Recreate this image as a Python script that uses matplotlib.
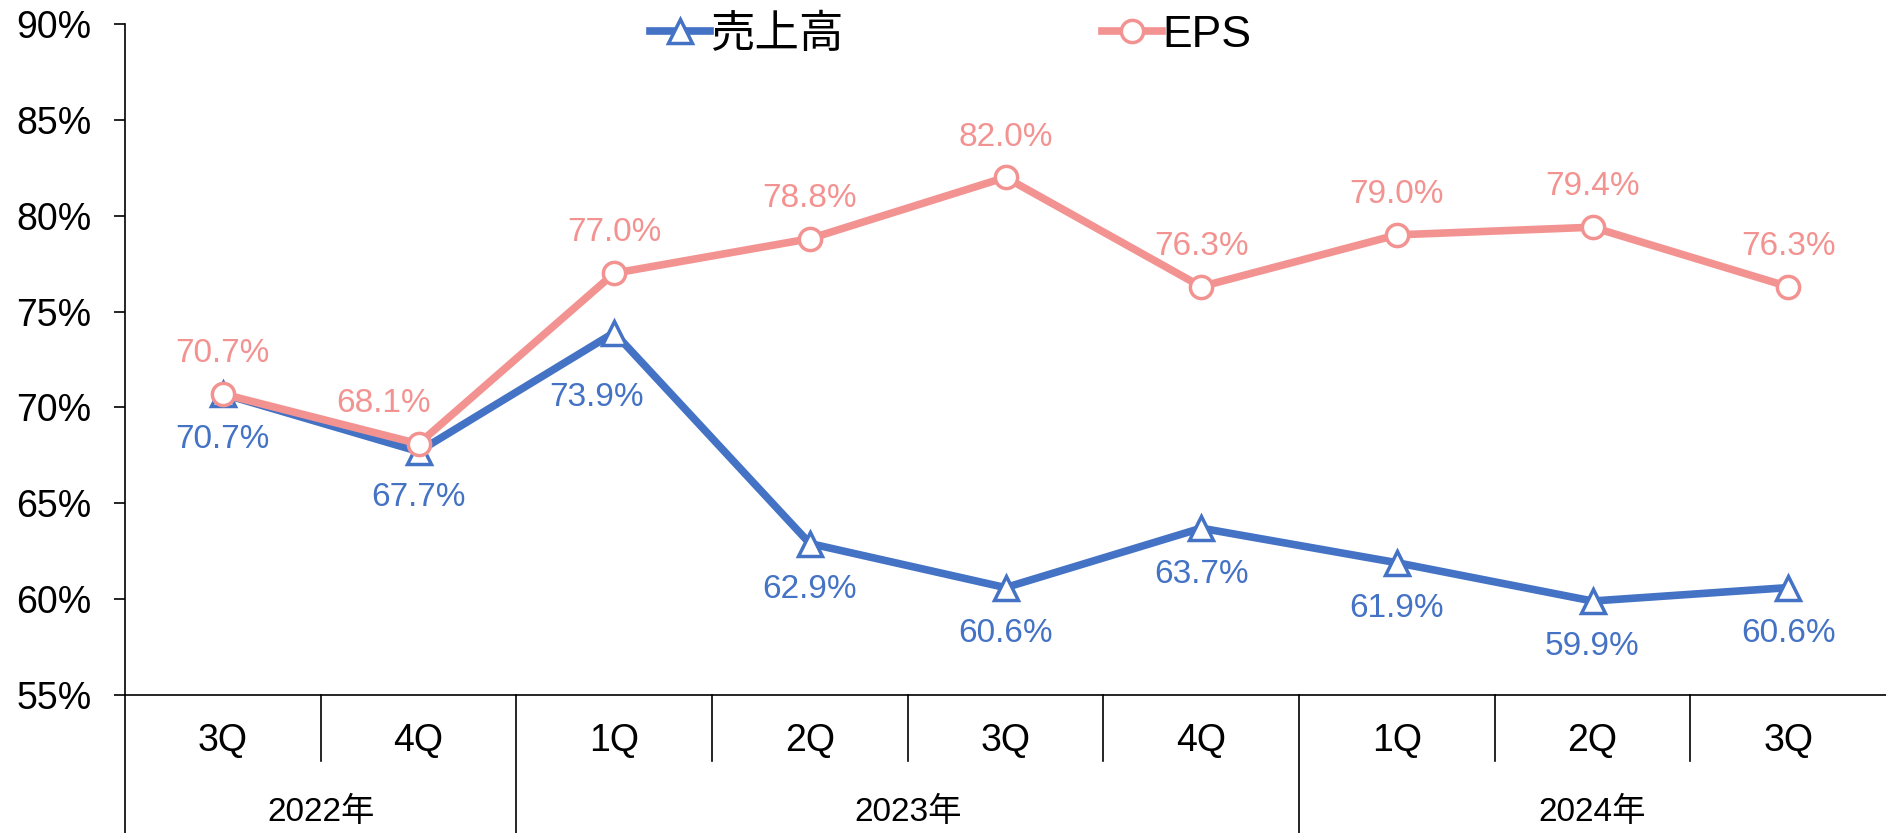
import numpy as np
import matplotlib
matplotlib.use('Agg')
import matplotlib.pyplot as plt
from matplotlib.transforms import blended_transform_factory

plt.rcParams['font.family'] = ['Liberation Sans', 'Noto Sans CJK JP', 'DejaVu Sans']

quarters = ['3Q', '4Q', '1Q', '2Q', '3Q', '4Q', '1Q', '2Q', '3Q']
years = ['2022年', '2023年', '2024年']
year_counts = [2, 4, 3]
sales = [70.7, 67.7, 73.9, 62.9, 60.6, 63.7, 61.9, 59.9, 60.6]
eps = [70.7, 68.1, 77.0, 78.8, 82.0, 76.3, 79.0, 79.4, 76.3]

blue = '#4472C4'
pink = '#F39391'

fig = plt.figure(figsize=(18.86, 8.33), dpi=100)
ax = fig.add_axes([0.0663, 0.1657, 0.9337, 0.8055])

x = np.arange(len(quarters))
l1, = ax.plot(x, sales, color=blue, lw=5.5, marker='^', ms=17, mfc='white',
              mec=blue, mew=2.5, zorder=3, label='売上高')
l2, = ax.plot(x, eps, color=pink, lw=5.5, marker='o', ms=16, mfc='white',
              mec=pink, mew=2.5, zorder=4, label='EPS')

# label offsets (points); a few moved by hand in the original
sales_off = [(0, -33)] * len(sales)
sales_off[2] = (-13, -47)
eps_off = [(0, 29)] * len(eps)
eps_off[1] = (-25, 29)

for xi, v, off in zip(x, sales, sales_off):
    ax.annotate('%.1f%%' % v, (xi, v), xytext=off, textcoords='offset points',
                ha='center', va='center', color=blue, fontsize=24)
for xi, v, off in zip(x, eps, eps_off):
    ax.annotate('%.1f%%' % v, (xi, v), xytext=off, textcoords='offset points',
                ha='center', va='center', color=pink, fontsize=24)

ax.set_xlim(-0.5, len(quarters) - 0.5)
ax.set_ylim(55, 90)
ax.set_yticks(np.arange(55, 91, 5))
ax.set_yticklabels(['%d%%' % t for t in range(55, 91, 5)], fontsize=27)
ax.tick_params(axis='y', direction='out', length=8, width=1.2, pad=16)
ax.set_xticks([])
for s in ['top', 'right']:
    ax.spines[s].set_visible(False)
for s in ['left', 'bottom']:
    ax.spines[s].set_linewidth(1.2)

trans = blended_transform_factory(ax.transData, ax.transAxes)
for xi, q in zip(x, quarters):
    ax.text(xi, -0.069, q, transform=trans, ha='center', va='center', fontsize=27)

# separators
year_bounds = np.cumsum([0] + year_counts) - 0.5
for b in np.arange(0.5, len(quarters) - 0.5):
    if b in year_bounds:
        continue
    ax.plot([b, b], [0, -0.098], transform=trans, color='black', lw=1.2, clip_on=False)
for b in year_bounds[:-1]:
    ax.plot([b, b], [0, -0.21], transform=trans, color='black', lw=1.2, clip_on=False)
for i, yl in enumerate(years):
    cx = (year_bounds[i] + year_bounds[i + 1]) / 2
    ax.text(cx, -0.175, yl, transform=trans, ha='center', va='center', fontsize=24)

fig.legend(handles=[l1, l2], loc='center', bbox_to_anchor=(0.504, 0.958), ncol=2,
           frameon=False, fontsize=32, handlelength=1.35, handletextpad=0.02,
           columnspacing=5.8)

fig.savefig('out.png', dpi=100)
